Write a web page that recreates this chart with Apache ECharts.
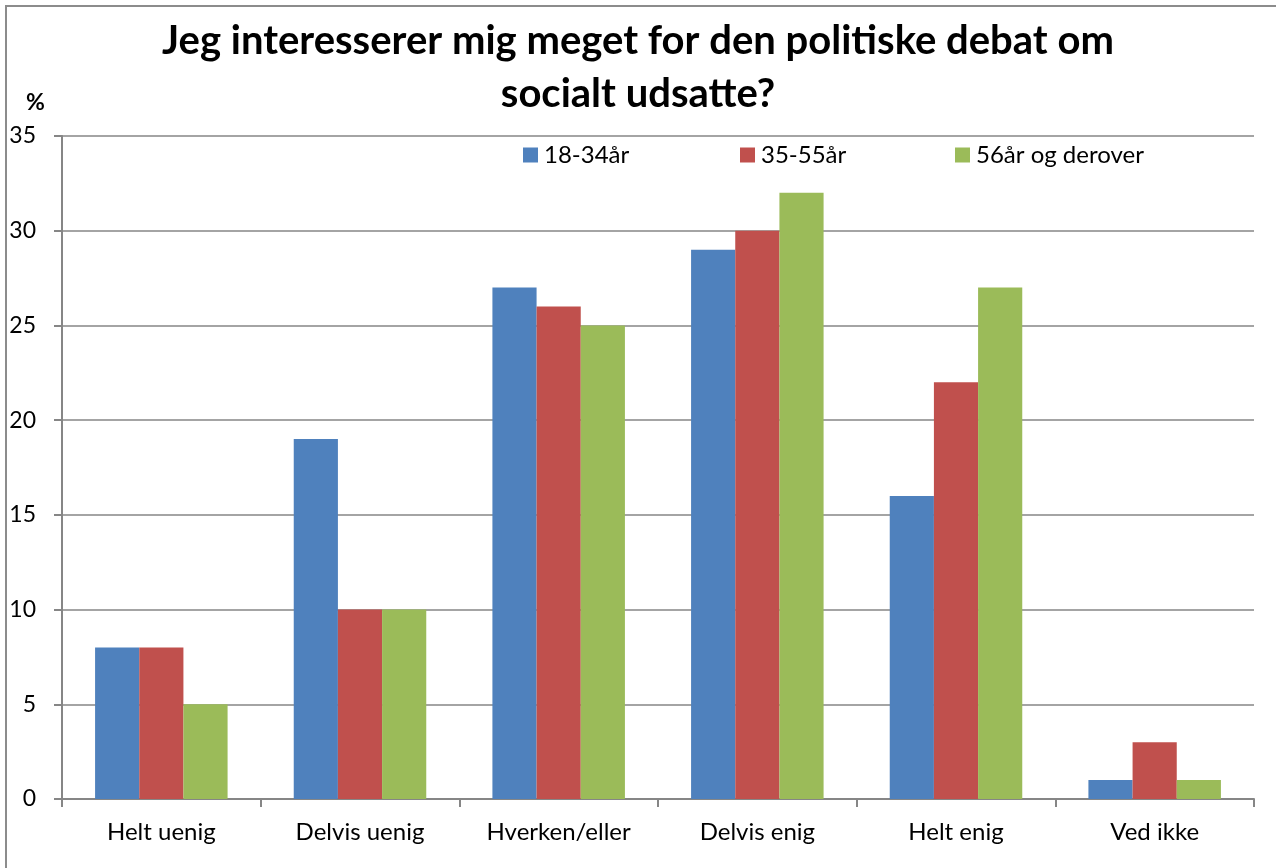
<!DOCTYPE html>
<html><head><meta charset="utf-8">
<script src="https://cdn.jsdelivr.net/npm/echarts@6/dist/echarts.min.js"></script>
<style>html,body{margin:0;padding:0;background:#fff}#c{width:1276px;height:868px}</style>
</head><body><div id="c"></div>
<script>
const categories = ['Helt uenig','Delvis uenig','Hverken/eller','Delvis enig','Helt enig','Ved ikke'];
const seriesNames = ['18-34år','35-55år','56år og derover'];
const s1 = [8,19,27,29,16,1];
const s2 = [8,10,26,30,22,3];
const s3 = [5,10,25,32,27,1];
const colors = ['#4F81BD','#C0504D','#9BBB59'];
const FONT = 'Lato';
const chart = echarts.init(document.getElementById('c'), null, {renderer:'canvas'});
const legendLefts = [523, 740, 955];
chart.setOption({
  animation:false,
  textStyle:{fontFamily:FONT},
  title:{
    text:'Jeg interesserer mig meget for den politiske debat om\nsocialt udsatte?',
    left:'center', top:10,
    textStyle:{fontFamily:FONT,fontWeight:'bold',fontSize:40,color:'#000',lineHeight:53}
  },
  graphic:[
    {type:'polyline',shape:{points:[[6,868],[6,6],[1276,6]]},style:{stroke:'#8c8c8c',lineWidth:2,fill:null}},
    {type:'text',left:26,top:91,style:{text:'%',font:'bold 23px Lato',fill:'#000'}}
  ],
  legend: seriesNames.map((n,i)=>({
    data:[n], left:legendLefts[i], top:143, itemWidth:15, itemHeight:15, itemGap:6, padding:0,
    icon:'rect', textStyle:{fontFamily:FONT,fontSize:24,color:'#000',padding:[0,0,0,1]}
  })),
  grid:{left:62,right:22,top:136,bottom:69},
  xAxis:{
    type:'category', data:categories,
    axisLine:{lineStyle:{color:'#868686',width:2}},
    axisTick:{show:true,length:8,lineStyle:{color:'#868686',width:2}},
    axisLabel:{fontFamily:FONT,fontSize:24,color:'#000',margin:21}
  },
  yAxis:{
    type:'value', min:0, max:35, interval:5,
    axisLine:{show:true,lineStyle:{color:'#868686',width:2}},
    axisTick:{show:true,length:8,lineStyle:{color:'#868686',width:2}},
    splitLine:{lineStyle:{color:'#868686',width:1.5}},
    axisLabel:{fontFamily:FONT,fontSize:23,color:'#000',margin:26}
  },
  series:[s1,s2,s3].map((d,i)=>({
    type:'bar', name:seriesNames[i], data:d, barGap:'0%', barCategoryGap:'33.3%',
    itemStyle:{color:colors[i]}
  }))
});
</script></body></html>
